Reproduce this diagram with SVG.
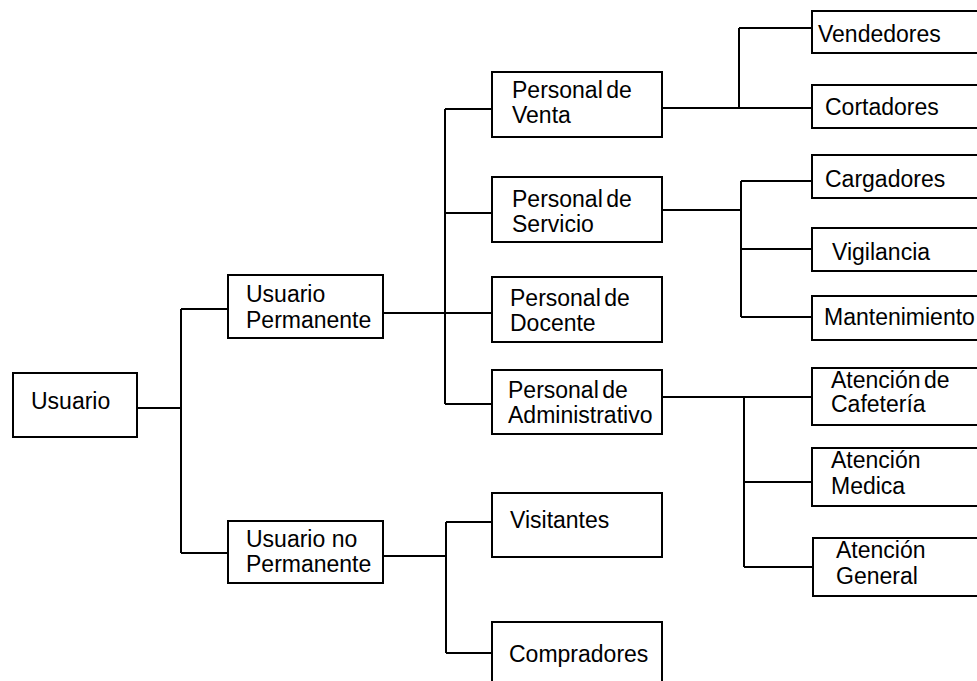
<svg xmlns="http://www.w3.org/2000/svg" width="977" height="681" viewBox="0 0 977 681">
<style>
.box{fill:#fff;stroke:#000;stroke-width:2}
.ln{fill:none;stroke:#000;stroke-width:2}
text{font-family:"Liberation Sans",Arial,sans-serif;font-size:23px;fill:#000}
.ns{word-spacing:-3px}
</style>
<rect width="977" height="681" fill="#fff"/>
<g id="connectors" class="ln">
<path d="M137 408H181M181 309V553M181 309H228M181 553H228"/>
<path d="M383 313H492M445 109V404M445 109H492M445 213H492M445 404H492"/>
<path d="M383 556H446M446 522V653M446 522H492M446 653H492"/>
<path d="M662 108H812M739 28V108M739 28H812"/>
<path d="M662 210H741M741 181V317M741 181H812M741 249H812M741 317H812"/>
<path d="M662 397H812M744 397V567M744 482H812M744 567H813"/>
</g>
<g id="usuario"><rect class="box" x="13" y="373" width="124" height="64"/><text x="31" y="409">Usuario</text></g>
<g id="usuario-permanente"><rect class="box" x="228" y="275" width="155" height="63"/><text x="246" y="302">Usuario</text><text x="246" y="328">Permanente</text></g>
<g id="usuario-no-permanente"><rect class="box" x="228" y="521" width="155" height="62"/><text x="246" y="547">Usuario no</text><text x="246" y="572">Permanente</text></g>
<g id="personal-venta"><rect class="box" x="492" y="72" width="170" height="65"/><text class="ns" x="512" y="98">Personal de</text><text x="512" y="123">Venta</text></g>
<g id="personal-servicio"><rect class="box" x="492" y="177" width="170" height="65"/><text class="ns" x="512" y="207">Personal de</text><text x="512" y="232">Servicio</text></g>
<g id="personal-docente"><rect class="box" x="492" y="277" width="170" height="65"/><text class="ns" x="510" y="306">Personal de</text><text x="510" y="331">Docente</text></g>
<g id="personal-administrativo"><rect class="box" x="492" y="370" width="170" height="64"/><text class="ns" x="508" y="398">Personal de</text><text x="508" y="423">Administrativo</text></g>
<g id="visitantes"><rect class="box" x="492" y="493" width="170" height="64"/><text x="510" y="528">Visitantes</text></g>
<g id="compradores"><rect class="box" x="492" y="622" width="170" height="70"/><text x="509" y="662">Compradores</text></g>
<g id="vendedores"><rect class="box" x="812" y="11" width="180" height="42"/><text x="818" y="42">Vendedores</text></g>
<g id="cortadores"><rect class="box" x="812" y="85" width="180" height="43"/><text x="825" y="115">Cortadores</text></g>
<g id="cargadores"><rect class="box" x="812" y="155" width="180" height="43"/><text x="825" y="187">Cargadores</text></g>
<g id="vigilancia"><rect class="box" x="812" y="228" width="180" height="43"/><text x="832" y="260">Vigilancia</text></g>
<g id="mantenimiento"><rect class="box" x="812" y="296" width="180" height="44"/><text x="824" y="325">Mantenimiento</text></g>
<g id="atencion-cafeteria"><rect class="box" x="812" y="368" width="180" height="57"/><text class="ns" x="831" y="388">Atención de</text><text x="831" y="412">Cafetería</text></g>
<g id="atencion-medica"><rect class="box" x="812" y="448" width="180" height="58"/><text x="831" y="468">Atención</text><text x="831" y="494">Medica</text></g>
<g id="atencion-general"><rect class="box" x="813" y="538" width="180" height="58"/><text x="836" y="558">Atención</text><text x="836" y="584">General</text></g>
</svg>
